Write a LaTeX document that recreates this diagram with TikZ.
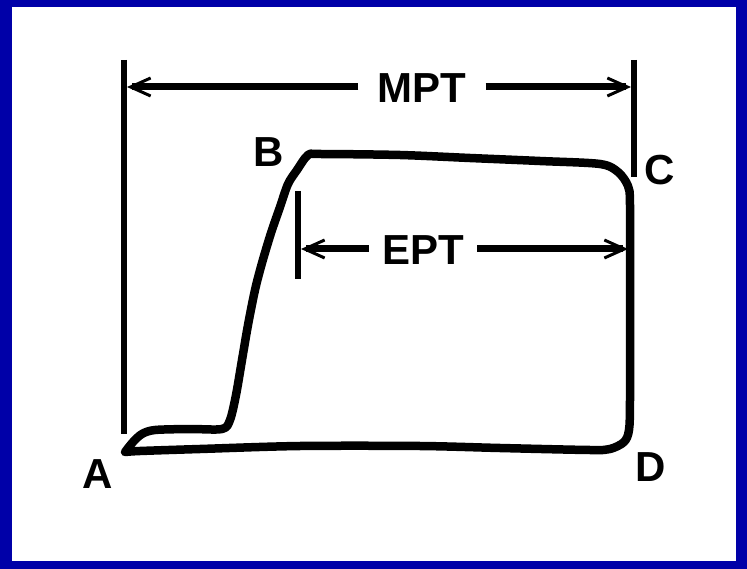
\documentclass[tikz,border=0pt]{standalone}
\usepackage{fontspec}
\setmainfont{Liberation Sans}
\usetikzlibrary{arrows.meta}
\definecolor{frameblue}{RGB}{0,0,168}
\begin{document}
\begin{tikzpicture}[x=1pt,y=-1pt,
  lbl/.style={font=\fontsize{42}{42}\selectfont\bfseries, inner sep=0pt},
  bar/.style={line width=6.5pt},
  dim/.style={line width=7pt, -{Straight Barb[length=20pt,width=18pt,line width=3pt]}},
  curve/.style={line width=8.5pt, line join=round, line cap=round}]
\fill[frameblue] (0,0) rectangle (747,569);
\fill[white] (12,7) rectangle (736,561);
\useasboundingbox (0,0) rectangle (747,569);
% vertical bars
\coordinate (a1) at (124,60); \coordinate (a2) at (124,434);
\coordinate (c1) at (634,60); \coordinate (c2) at (634,177);
\coordinate (e1) at (298,191); \coordinate (e2) at (298,279);
\draw[bar] (a1) -- (a2);
\draw[bar] (c1) -- (c2);
\draw[bar] (e1) -- (e2);
% labels
\node[lbl, inner xsep=19pt] (mpt) at (422,88) {MPT};
\node[lbl, inner xsep=13pt] (ept) at (423,250) {EPT};
\node[lbl] (A) at (98,474) {A};
\node[lbl] (B) at (269,152) {B};
\node[lbl] (C) at (660,170) {C};
\node[lbl] (D) at (651,467) {D};
% dimension arrows
\coordinate (mL) at (127,87); \coordinate (mR) at (631,87);
\coordinate (eL) at (301,249); \coordinate (eR) at (628,249);
\draw[dim] (mpt.west |- mL) -- (mL);
\draw[dim] (mpt.east |- mR) -- (mR);
\draw[dim] (ept.west |- eL) -- (eL);
\draw[dim] (ept.east |- eR) -- (eR);
% pressure curve
\draw[curve] plot[smooth, tension=0.5] coordinates {
 (125,452) (133,442) (142,434) (155,430) (190,429) (222,429) (230,420)
 (236,395) (242,360) (248,325) (255,290) (262,263) (271,233) (280,207)
 (288,184) (297,170) (308,155) (320,154) (400,155) (470,158) (540,161) (600,164)
 (618,172) (628,186) (630,205) (630,300) (630,400) (629,430) (624,442)
 (610,449) (590,450) (500,448) (420,446) (300,446) (200,449) (140,451)
 (125,452)};
\end{tikzpicture}
\end{document}
